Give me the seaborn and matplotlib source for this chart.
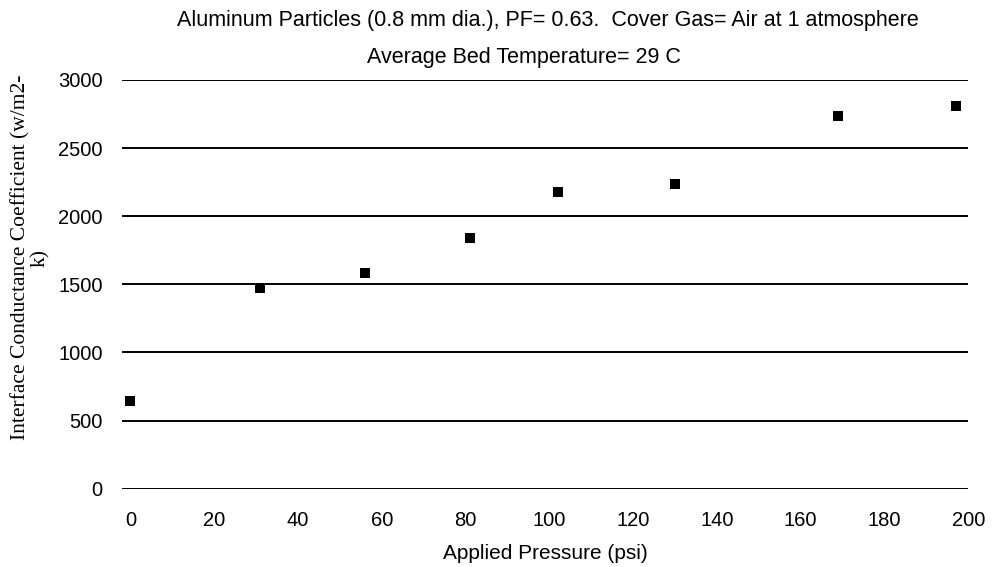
import matplotlib
matplotlib.use('Agg')
import matplotlib.pyplot as plt
import seaborn as sns
import pandas as pd

# data
pressure_psi = [0, 31, 56, 81, 102, 130, 169, 197]
conductance = [645, 1470, 1585, 1840, 2180, 2235, 2735, 2810]
x_ticks = [0, 20, 40, 60, 80, 100, 120, 140, 160, 180, 200]
y_ticks = [0, 500, 1000, 1500, 2000, 2500, 3000]

df = pd.DataFrame({'Pressure': pressure_psi, 'Conductance': conductance})

sns.set_style("white")
plt.rcParams['font.family'] = ['Liberation Sans', 'DejaVu Sans']
plt.rcParams['text.color'] = 'black'
plt.rcParams['axes.labelcolor'] = 'black'
plt.rcParams['xtick.color'] = 'black'
plt.rcParams['ytick.color'] = 'black'

fig = plt.figure(figsize=(9.92, 5.67), dpi=100)
ax = fig.add_axes([0.123, 0.138, 0.853, 0.721])

sns.scatterplot(data=df, x='Pressure', y='Conductance', marker='s', s=42,
                color='black', edgecolor='black', linewidth=0, ax=ax, zorder=3, clip_on=False)

ax.set_xlim(-2, 200)
ax.set_ylim(0, 3000)
ax.set_xticks(x_ticks)
ax.set_yticks(y_ticks)
for y in y_ticks:
    ax.axhline(y, color='black', linewidth=1.4, zorder=1)
for s in ax.spines.values():
    s.set_visible(False)
ax.tick_params(axis='x', length=0, pad=16, labelsize=14.5, labelcolor='black')
ax.tick_params(axis='y', length=0, pad=14, labelsize=14.5, labelcolor='black')

ax.set_xlabel('Applied Pressure (psi)', fontsize=15, labelpad=10, color='black')
ax.set_ylabel('Interface Conductance Coefficient (w/m2-\nk)', fontsize=15.5, color='black',
              family=['Liberation Serif', 'DejaVu Serif'], linespacing=1.05)
ax.yaxis.set_label_coords(-0.085, 0.565)

fig.text(0.552, 0.964, 'Aluminum Particles (0.8 mm dia.), PF= 0.63.  Cover Gas= Air at 1 atmosphere',
         ha='center', va='center', fontsize=15.5, color='black')
fig.text(0.528, 0.899, 'Average Bed Temperature= 29 C', ha='center', va='center',
         fontsize=15.5, color='black')

fig.savefig('out.png', dpi=100)
